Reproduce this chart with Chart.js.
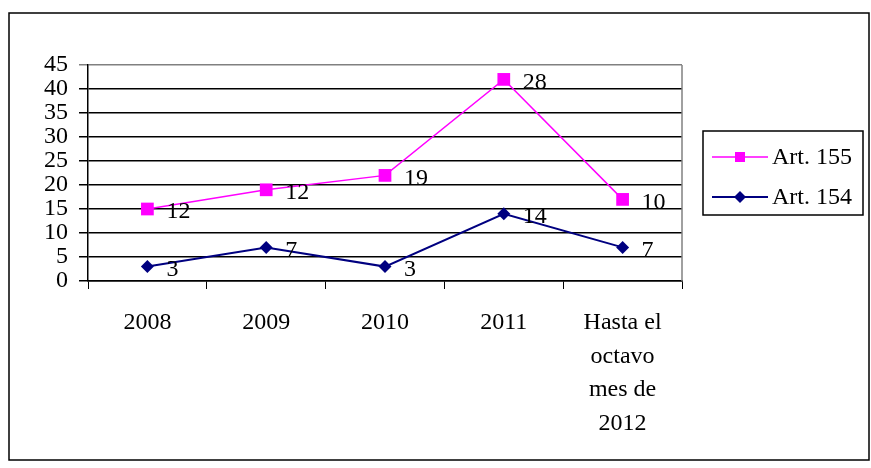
<!DOCTYPE html>
<html>
<head>
    <script src="https://cdn.jsdelivr.net/npm/chart.js@4.4.0/dist/chart.umd.min.js"></script>
    <title>Art. 154 / Art. 155</title>
    <style>
        body { margin: 0; background: #fff; }
    </style>
</head>
<body>
<canvas id="myChart" width="871" height="468"></canvas>
<script>
    // categories and values (Art. 155 is stacked on top of Art. 154)
    var years = ['2008', '2009', '2010', '2011', ['Hasta el', 'octavo', 'mes de', '2012']];
    var art154 = [3, 7, 3, 14, 7];
    var art155 = [12, 12, 19, 28, 10];
    var yTicks = [0, 5, 10, 15, 20, 25, 30, 35, 40, 45];

    var serif = "'Liberation Serif', 'Times New Roman', serif";
    var fontSize = 24;

    // frame, right edge of plot, value labels and legend box
    var extras = {
        id: 'extras',
        afterDraw: function(chart) {
            var ctx = chart.ctx;
            var area = chart.chartArea;
            ctx.save();
            // outer frame
            ctx.strokeStyle = '#000';
            ctx.lineWidth = 1.5;
            ctx.strokeRect(9, 13, 860, 447);
            // right border of plot area
            ctx.strokeStyle = '#808080';
            ctx.lineWidth = 1.5;
            ctx.beginPath();
            ctx.moveTo(area.right, area.top);
            ctx.lineTo(area.right, area.bottom);
            ctx.stroke();

            // value labels
            ctx.fillStyle = '#000';
            ctx.font = fontSize + 'px ' + serif;
            ctx.textAlign = 'left';
            ctx.textBaseline = 'middle';
            chart.data.datasets.forEach(function(ds, i) {
                var meta = chart.getDatasetMeta(i);
                meta.data.forEach(function(pt, j) {
                    ctx.fillText(String(ds.data[j]), pt.x + 19, pt.y + 3);
                });
            });

            // legend
            ctx.strokeStyle = '#000';
            ctx.lineWidth = 1.5;
            ctx.strokeRect(703, 131, 160, 84);
            var items = [chart.data.datasets[1], chart.data.datasets[0]];
            items.forEach(function(ds, k) {
                var y = 157 + k * 40;
                ctx.strokeStyle = ds.borderColor;
                ctx.lineWidth = ds.borderWidth;
                ctx.beginPath();
                ctx.moveTo(712, y);
                ctx.lineTo(768, y);
                ctx.stroke();
                ctx.fillStyle = ds.pointBackgroundColor;
                ctx.beginPath();
                if (ds.pointStyle === 'rect') {
                    ctx.rect(735, y - 5, 10, 10);
                } else {
                    ctx.moveTo(734, y);
                    ctx.lineTo(740, y - 6);
                    ctx.lineTo(746, y);
                    ctx.lineTo(740, y + 6);
                    ctx.closePath();
                }
                ctx.fill();
                ctx.fillStyle = '#000';
                ctx.font = fontSize + 'px ' + serif;
                ctx.textBaseline = 'middle';
                ctx.fillText(ds.label, 772, y + 1);
            });
            ctx.restore();
        }
    };

    var ctx = document.getElementById('myChart').getContext('2d');
    var myChart = new Chart(ctx, {
        type: 'line',
        data: {
            labels: years,
            datasets: [
                {
                    label: 'Art. 154',
                    data: art154,
                    borderColor: '#000080',
                    backgroundColor: '#000080',
                    pointBackgroundColor: '#000080',
                    pointBorderColor: '#000080',
                    pointStyle: 'rectRot',
                    pointRadius: 6.5,
                    pointBorderWidth: 0,
                    borderWidth: 2,
                    fill: false
                },
                {
                    label: 'Art. 155',
                    data: art155,
                    borderColor: '#FF00FF',
                    backgroundColor: '#FF00FF',
                    pointBackgroundColor: '#FF00FF',
                    pointBorderColor: '#FF00FF',
                    pointStyle: 'rect',
                    pointRadius: 9,
                    pointBorderWidth: 0,
                    borderWidth: 1.5,
                    fill: false
                }
            ]
        },
        options: {
            responsive: false,
            animation: false,
            devicePixelRatio: 1,
            layout: {
                padding: { left: 8, right: 189, top: 65, bottom: 0 }
            },
            plugins: {
                legend: { display: false },
                tooltip: { enabled: false }
            },
            scales: {
                x: {
                    offset: true,
                    grid: {
                        offset: true,
                        drawOnChartArea: false,
                        color: '#000',
                        tickLength: 8
                    },
                    border: { color: '#000', width: 1.5 },
                    ticks: {
                        color: '#000',
                        padding: 17,
                        maxRotation: 0,
                        autoSkip: false,
                        font: { family: serif, size: fontSize, lineHeight: 1.4 }
                    },
                    afterFit: function(scale) { scale.height = 187; }
                },
                y: {
                    stacked: true,
                    min: 0,
                    max: 45,
                    afterBuildTicks: function(scale) {
                        scale.ticks = yTicks.map(function(v) { return { value: v }; });
                    },
                    grid: {
                        color: function(c) { return c.tick && c.tick.value === 45 ? '#808080' : '#000'; },
                        lineWidth: 1.5,
                        tickLength: 9
                    },
                    border: { color: '#000', width: 1.5 },
                    ticks: {
                        color: '#000',
                        padding: 11,
                        autoSkip: false,
                        font: { family: serif, size: fontSize, lineHeight: 1 }
                    },
                    afterFit: function(scale) { scale.width = 80; }
                }
            }
        },
        plugins: [extras]
    });
</script>
</body>
</html>
